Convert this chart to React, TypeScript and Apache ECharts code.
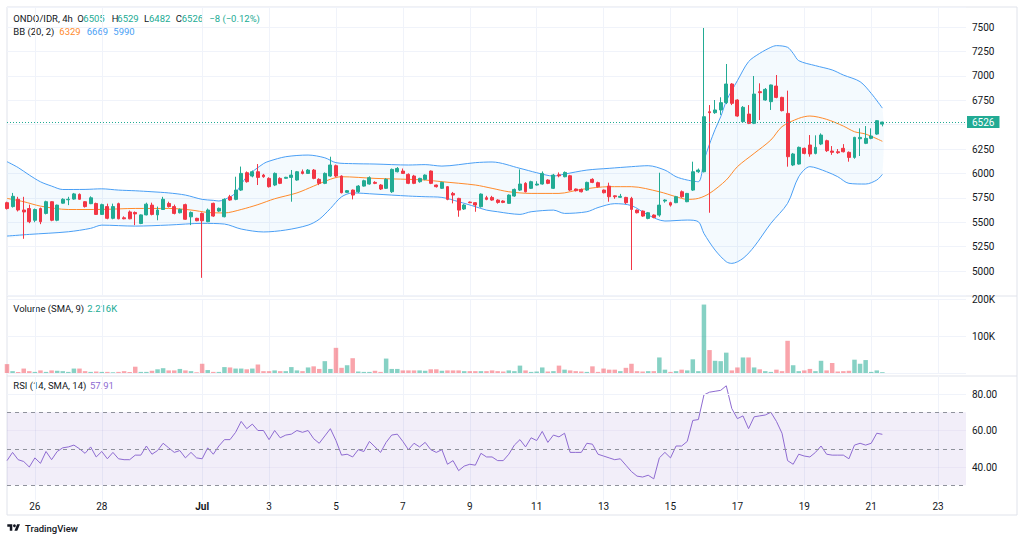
import { useEffect, useRef } from 'react';
import * as echarts from 'echarts';

// ---- palette -------------------------------------------------------------
const UP = '#22ab94';
const DOWN = '#f23645';
const UP_VOL = 'rgba(34,171,148,0.55)';
const DOWN_VOL = 'rgba(242,54,69,0.45)';
const BB_BAND = '#4a9ff5';
const BB_BASIS = '#ff8a2b';
const RSI_COLOR = '#8e6bd1';
const TEXT = '#131722';
const GRID = '#f0f3fa';
const BORDER = '#e0e3eb';
const FONT = 'Roboto, "Noto Sans", sans-serif';

// ---- time slots (4h candles) ---------------------------------------------
const FIRST_SLOT = Date.UTC(2025, 5, 25, 4);
const SLOT_COUNT = 173;
const pad = (n: number) => String(n).padStart(2, '0');
const slots: string[] = Array.from({ length: SLOT_COUNT }, (_, k) => {
  const d = new Date(FIRST_SLOT + k * 4 * 3600 * 1000);
  return `${pad(d.getUTCMonth() + 1)}-${pad(d.getUTCDate())} ${pad(d.getUTCHours())}:00`;
});

const tickSlots = [
  '06-26 00:00', '06-28 00:00', '07-01 00:00', '07-03 00:00', '07-05 00:00',
  '07-07 00:00', '07-09 00:00', '07-11 00:00', '07-13 00:00', '07-15 00:00',
  '07-17 00:00', '07-19 00:00', '07-21 00:00', '07-23 00:00',
];
const tickLabels = ['26', '28', 'Jul', '3', '5', '7', '9', '11', '13', '15', '17', '19', '21', '23'];

// ---- ONDO/IDR 4h candles -------------------------------------------------
const open = [
  5700, 5660, 5735, 5625, 5640, 5520, 5640, 5590, 5710, 5520,
  5695, 5730, 5737, 5785, 5710, 5690, 5692, 5580, 5660, 5540,
  5690, 5545, 5605, 5600, 5487, 5575, 5675, 5575, 5630, 5692,
  5660, 5597, 5680, 5555, 5540, 5590, 5505, 5693, 5614, 5556,
  5761, 5734, 5829, 6007, 5973, 6017, 5983, 5949, 5881, 5949,
  5950, 5959, 5932, 6017, 6000, 6034, 5939, 5898, 5973, 6079,
  5973, 5806, 5829, 5812, 5870, 5891, 5908, 5881, 5847, 5812,
  6017, 6024, 5990, 5973, 5915, 5939, 6024, 5881, 5847, 5864,
  5795, 5744, 5635, 5706, 5700, 5659, 5751, 5754, 5727, 5717,
  5693, 5768, 5829, 5898, 5847, 5881, 5891, 5932, 5847, 5985,
  5966, 5976, 5840, 5836, 5829, 5939, 5905, 5829, 5870, 5770,
  5755, 5754, 5744, 5624, 5614, 5539, 5573, 5573, 5717, 5700,
  5700, 5812, 5710, 5829, 6017, 6017, 6632, 6622, 6650, 6725,
  6916, 6752, 6530, 6608, 6513, 6837, 6752, 6735, 6895, 6779,
  6615, 6086, 6096, 6257, 6291, 6205, 6301, 6335, 6229, 6222,
  6257, 6216, 6164, 6355, 6308, 6359, 6403, 6505,
];
const high = [
  5710, 5800, 5760, 5760, 5680, 5640, 5650, 5720, 5715, 5680,
  5745, 5760, 5800, 5795, 5715, 5765, 5700, 5690, 5690, 5690,
  5700, 5560, 5620, 5610, 5580, 5700, 5700, 5660, 5760, 5710,
  5680, 5640, 5690, 5610, 5545, 5600, 5640, 5700, 5650, 5745,
  5780, 5966, 6070, 6020, 6030, 6096, 5995, 5960, 6010, 5960,
  5965, 6035, 6025, 6040, 6045, 6045, 5950, 6010, 6171, 6090,
  5980, 5830, 5835, 5880, 5935, 5970, 5920, 5890, 5950, 6050,
  6065, 6050, 6000, 5985, 5955, 5990, 6030, 5885, 5915, 5870,
  5810, 5750, 5685, 5712, 5705, 5795, 5770, 5770, 5735, 5725,
  5785, 5845, 6041, 5910, 5925, 5920, 6020, 5940, 5995, 6010,
  6020, 5985, 5845, 5845, 5915, 5950, 5915, 5835, 5905, 5775,
  5790, 5760, 5760, 5630, 5620, 5605, 5580, 6007, 5735, 5710,
  5770, 5825, 5800, 6120, 6050, 7490, 6700, 6752, 6780, 7121,
  6925, 6760, 6690, 6700, 6998, 6923, 6875, 6910, 7008, 6785,
  6848, 6210, 6275, 6265, 6393, 6390, 6410, 6345, 6280, 6250,
  6300, 6225, 6375, 6462, 6485, 6462, 6545, 6529,
];
const low = [
  5630, 5650, 5610, 5330, 5490, 5500, 5480, 5580, 5510, 5510,
  5690, 5675, 5730, 5730, 5650, 5685, 5575, 5575, 5530, 5530,
  5530, 5530, 5530, 5470, 5480, 5570, 5570, 5520, 5625, 5650,
  5580, 5590, 5525, 5470, 5510, 4930, 5500, 5555, 5605, 5550,
  5720, 5725, 5820, 5905, 5960, 5881, 5955, 5855, 5870, 5890,
  5945, 5710, 5925, 5990, 5995, 5940, 5880, 5890, 5965, 5960,
  5795, 5800, 5734, 5800, 5865, 5885, 5890, 5830, 5840, 5800,
  6010, 5995, 5890, 5890, 5905, 5930, 5890, 5855, 5840, 5725,
  5693, 5556, 5625, 5695, 5607, 5650, 5725, 5720, 5690, 5695,
  5688, 5760, 5820, 5805, 5840, 5875, 5885, 5890, 5840, 5960,
  5960, 5820, 5815, 5805, 5820, 5900, 5855, 5795, 5710, 5740,
  5750, 5686, 5010, 5590, 5555, 5530, 5540, 5556, 5700, 5660,
  5695, 5750, 5705, 5820, 6005, 6010, 5597, 6610, 6600, 6710,
  6700, 6580, 6520, 6505, 6505, 6547, 6745, 6650, 6770, 6635,
  6069, 6075, 6090, 6195, 6171, 6195, 6290, 6220, 6190, 6200,
  6215, 6120, 6150, 6178, 6300, 6350, 6395, 6482,
];
const close = [
  5640, 5765, 5625, 5605, 5505, 5630, 5505, 5710, 5520, 5675,
  5735, 5735, 5790, 5735, 5660, 5750, 5580, 5680, 5540, 5660,
  5535, 5535, 5535, 5585, 5575, 5685, 5580, 5625, 5735, 5660,
  5590, 5631, 5530, 5600, 5515, 5515, 5625, 5563, 5642, 5734,
  5727, 5829, 6000, 5915, 6017, 5959, 5966, 5864, 6000, 5898,
  5960, 5983, 6017, 6000, 6034, 5949, 5898, 6000, 6086, 5973,
  5802, 5823, 5778, 5870, 5925, 5956, 5898, 5840, 5939, 6041,
  6051, 6000, 5898, 5898, 5949, 5983, 5898, 5864, 5908, 5734,
  5778, 5624, 5676, 5700, 5676, 5788, 5734, 5727, 5703, 5703,
  5778, 5836, 5891, 5812, 5915, 5891, 6000, 5898, 5983, 5975,
  6010, 5829, 5823, 5812, 5908, 5908, 5864, 5802, 5761, 5761,
  5765, 5700, 5631, 5597, 5563, 5597, 5549, 5675, 5727, 5675,
  5761, 5761, 5795, 6017, 6034, 6581, 6622, 6650, 6725, 6916,
  6718, 6588, 6677, 6513, 6813, 6827, 6861, 6906, 6779, 6643,
  6171, 6199, 6267, 6205, 6199, 6267, 6393, 6233, 6216, 6212,
  6222, 6164, 6369, 6369, 6359, 6383, 6540, 6526,
];

// volume in thousands
const volumeK = [
  24, 5, 3, 12, 5, 3, 7, 3, 7, 6,
  5, 3, 12, 12, 5, 3, 4, 3, 3, 2,
  3, 5, 3, 17, 3, 3, 6, 10, 13, 7,
  7, 11, 7, 5, 2, 25, 8, 3, 3, 16,
  15, 12, 12, 10, 12, 23, 5, 5, 7, 5,
  5, 16, 7, 5, 15, 18, 11, 32, 11, 68,
  14, 21, 40, 4, 3, 3, 6, 3, 39, 11,
  11, 7, 7, 7, 7, 6, 10, 10, 6, 7,
  7, 7, 5, 5, 5, 5, 5, 7, 5, 4,
  7, 5, 20, 7, 3, 4, 15, 4, 5, 20,
  9, 7, 5, 4, 3, 18, 3, 12, 9, 9,
  5, 14, 25, 5, 4, 5, 5, 42, 9, 3,
  5, 9, 7, 37, 5, 185, 62, 33, 32, 55,
  7, 15, 42, 42, 15, 10, 5, 3, 9, 5,
  87, 21, 5, 7, 11, 5, 33, 7, 27, 4,
  5, 6, 36, 25, 35, 3, 7, 2.216,
];

const rsi = [
  43.5, 48, 44, 43, 40, 45, 42, 48.5, 44, 48.5,
  50.5, 51, 52, 50, 47.5, 51, 45.5, 48.5, 44.5, 48,
  44.5, 44, 44, 46.5, 46.5, 51.5, 47, 49, 53, 50.5,
  48, 49, 45, 48, 45, 44.5, 50.5, 47, 51.5, 55,
  55, 59, 65, 61, 63.5, 60, 60, 55, 60, 56,
  57.5, 58, 60, 59, 60, 55.5, 53, 57, 61, 54.5,
  46.5, 47, 45.5, 49.5, 48.5, 54, 51, 48, 53.5, 57.5,
  58, 54, 49.5, 53, 51, 53.5, 49.5, 48, 49.5, 41.5,
  43.5, 38, 40.5, 41.5, 41, 47.5, 45.5, 45.5, 43.5, 43.5,
  47, 52, 55, 51, 56, 54.5, 59.5, 53.5, 57.5, 56.5,
  58.5, 48, 48, 48, 53, 52.5, 47, 46, 45, 44,
  44.5, 41, 37.5, 35, 34.5, 35.5, 33.5, 45, 48, 45,
  51.5, 51.5, 54, 65.5, 66, 79.5, 81, 81.5, 82, 84.5,
  72, 66.5, 68, 61, 67.5, 68, 68.5, 70, 65, 58.5,
  43.5, 41.5, 47, 46, 45.5, 48, 51.5, 47, 46.5, 46.5,
  46.5, 44.5, 52, 53, 52, 53, 58.5, 57.91,
];

// Bollinger Bands (20, 2): [candle number, price]
const bbUpper: [number, number][] = [
  [1, 6120], [3, 6060], [5, 5983], [7, 5914], [9, 5870], [11, 5835], [15, 5836], [18, 5842],
  [21, 5829], [24, 5822], [27, 5812], [30, 5800], [33, 5778], [36, 5734], [38, 5724], [39, 5717],
  [41, 5760], [42, 5800], [44, 5966], [47, 6100], [48, 6125], [51, 6171], [55, 6188], [58, 6160],
  [60, 6110], [63, 6100], [67, 6096], [73, 6086], [76, 6090], [79, 6075], [85, 6110], [88, 6117],
  [93, 6052], [96, 6007], [99, 5973], [101, 5993], [105, 6034], [109, 6052], [113, 6069], [116, 6079],
  [119, 6034], [121, 5966], [123, 5932], [125, 5915], [126, 6130], [127, 6300], [128, 6450], [129, 6580],
  [130, 6740], [131, 6850], [132, 6950], [134, 7145], [136, 7230], [138, 7292], [139, 7309], [141, 7292],
  [142, 7230], [143, 7155], [146, 7104], [149, 7060], [151, 7008], [154, 6940], [156, 6820], [158, 6669],
];
const bbBasis: [number, number][] = [
  [1, 5744], [4, 5710], [7, 5665], [12, 5630], [18, 5631], [24, 5641], [30, 5641], [34, 5625],
  [37, 5600], [40, 5595], [43, 5630], [46, 5680], [49, 5740], [53, 5800], [56, 5870], [59, 5940],
  [61, 5966], [67, 5949], [73, 5939], [76, 5932], [79, 5915], [85, 5881], [88, 5847], [91, 5812],
  [95, 5795], [100, 5795], [104, 5836], [109, 5864], [113, 5864], [118, 5812], [121, 5761], [123, 5734],
  [125, 5744], [127, 5795], [130, 5932], [132, 6069], [135, 6205], [138, 6342], [140, 6479], [143, 6564],
  [145, 6588], [148, 6554], [151, 6485], [153, 6427], [155, 6403], [158, 6329],
];
const bbLower: [number, number][] = [
  [1, 5358], [5, 5375], [12, 5402], [16, 5437], [18, 5470], [24, 5460], [30, 5471], [36, 5488],
  [40, 5481], [43, 5430], [47, 5400], [51, 5420], [55, 5470], [57, 5530], [59, 5640], [61, 5760],
  [63, 5800], [67, 5788], [73, 5768], [76, 5761], [79, 5754], [82, 5710], [85, 5659], [87, 5624],
  [89, 5607], [91, 5590], [93, 5580], [95, 5607], [99, 5624], [101, 5590], [105, 5607], [107, 5650],
  [110, 5690], [113, 5670], [116, 5573], [119, 5512], [123, 5522], [125, 5505], [126, 5385], [128, 5214],
  [130, 5095], [131, 5078], [133, 5129], [135, 5249], [138, 5488], [141, 5693], [143, 5966], [145, 6069],
  [148, 6017], [150, 5966], [152, 5898], [155, 5891], [157, 5932], [158, 5990],
];

const LAST_PRICE = 6526;

echarts.graphic.registerShape(
  'tvLogo',
  echarts.graphic.extendPath('M14 22H7V11H0V4h14v18zM28 22h-8l7.5-18h8L28 22z', {})
);

const tickSet = new Set(tickSlots);
const showTick = (_: number, v: string) => tickSet.has(v);
const toPoints = (arr: [number, number][]) => arr.map(([n, v]) => [n - 1, v]);

function xAxisFor(gridIndex: number, withLabels: boolean) {
  return {
    type: 'category',
    gridIndex,
    data: slots,
    boundaryGap: false,
    axisLine: { show: false },
    axisTick: { show: false },
    axisPointer: { show: false },
    axisLabel: withLabels
      ? {
          interval: showTick,
          margin: 2,
          color: TEXT,
          fontSize: 10,
          fontFamily: FONT,
          formatter: (v: string) => {
            const k = tickSlots.indexOf(v);
            if (k < 0) return '';
            return tickLabels[k] === 'Jul' ? '{b|Jul}' : tickLabels[k];
          },
          rich: { b: { fontWeight: 'bold', fontSize: 10, fontFamily: FONT, color: TEXT } },
        }
      : { show: false },
    splitLine: { show: true, interval: showTick, lineStyle: { color: GRID, width: 1 } },
  };
}

const axisText = { color: TEXT, fontSize: 10, fontFamily: FONT };

function label(x: number, y: number, text: string, fill: string, size = 9.5, weight = 'normal') {
  return {
    type: 'text',
    x,
    y,
    silent: true,
    style: { text, fill, fontSize: size, fontFamily: FONT, fontWeight: weight, verticalAlign: 'middle' },
  };
}

function segment(x1: number, y1: number, x2: number, y2: number) {
  return {
    type: 'line',
    silent: true,
    shape: { x1, y1, x2, y2 },
    style: { stroke: BORDER, lineWidth: 1 },
  };
}

function buildOption() {
  const candles = open.map((o, k) => [o, close[k], low[k], high[k]]);
  const volumes = volumeK.map((v, k) => ({
    value: v * 1000,
    itemStyle: { color: close[k] >= open[k] ? UP_VOL : DOWN_VOL },
  }));

  const logoScale = 0.357;
  const logoX = 7.3;
  const logoY = 522.9;

  return {
    animation: false,
    backgroundColor: '#ffffff',
    textStyle: { fontFamily: FONT },
    grid: [
      { left: 7, right: 58, top: 7, height: 288.4 },
      { left: 7, right: 58, top: 299, height: 74 },
      { left: 7, right: 58, top: 375.75, height: 124.1 },
    ],
    xAxis: [xAxisFor(0, false), xAxisFor(1, false), xAxisFor(2, true)],
    yAxis: [
      {
        type: 'value',
        gridIndex: 0,
        position: 'right',
        min: 4750,
        max: 7705,
        interval: 250,
        axisLine: { show: false },
        axisTick: { show: false },
        axisLabel: {
          ...axisText,
          margin: 6,
          showMinLabel: false,
          showMaxLabel: false,
          formatter: (v: number) => (v === 6500 ? '' : String(v)),
        },
        splitLine: { lineStyle: { color: GRID } },
      },
      {
        type: 'value',
        gridIndex: 1,
        position: 'right',
        min: 0,
        max: 200000,
        interval: 100000,
        axisLine: { show: false },
        axisTick: { show: false },
        axisLabel: { ...axisText, margin: 6, formatter: (v: number) => (v === 0 ? '' : `${v / 1000}K`) },
        splitLine: { lineStyle: { color: GRID } },
      },
      {
        type: 'value',
        gridIndex: 2,
        position: 'right',
        min: 22,
        max: 90,
        interval: 2,
        axisLine: { show: false },
        axisTick: { show: false },
        axisLabel: {
          ...axisText,
          margin: 6,
          formatter: (v: number) => (v === 40 || v === 60 || v === 80 ? v.toFixed(2) : ''),
        },
        splitLine: { show: false },
      },
    ],
    series: [
      {
        name: 'BB fill',
        type: 'custom',
        xAxisIndex: 0,
        yAxisIndex: 0,
        silent: true,
        clip: true,
        z: 1,
        data: [[0, 6000]],
        renderItem: (_params: any, api: any) => {
          const pts = [
            ...toPoints(bbUpper).map((p) => api.coord(p)),
            ...toPoints(bbLower).reverse().map((p) => api.coord(p)),
          ];
          return {
            type: 'polygon',
            shape: { points: pts, smooth: 0.3 },
            style: { fill: 'rgba(33,150,243,0.05)' },
          };
        },
      },
      {
        name: 'BB upper',
        type: 'line',
        xAxisIndex: 0,
        yAxisIndex: 0,
        data: toPoints(bbUpper),
        showSymbol: false,
        smooth: 0.3,
        silent: true,
        z: 2,
        lineStyle: { color: BB_BAND, width: 1 },
      },
      {
        name: 'BB lower',
        type: 'line',
        xAxisIndex: 0,
        yAxisIndex: 0,
        data: toPoints(bbLower),
        showSymbol: false,
        smooth: 0.3,
        silent: true,
        z: 2,
        lineStyle: { color: BB_BAND, width: 1 },
      },
      {
        name: 'BB basis',
        type: 'line',
        xAxisIndex: 0,
        yAxisIndex: 0,
        data: toPoints(bbBasis),
        showSymbol: false,
        smooth: 0.3,
        silent: true,
        z: 2,
        lineStyle: { color: BB_BASIS, width: 1 },
      },
      {
        name: 'ONDO/IDR',
        type: 'candlestick',
        xAxisIndex: 0,
        yAxisIndex: 0,
        data: candles,
        barWidth: 3.4,
        z: 3,
        itemStyle: { color: UP, color0: DOWN, borderColor: UP, borderColor0: DOWN, borderWidth: 1 },
        markLine: {
          silent: true,
          symbol: ['none', 'none'],
          data: [{ yAxis: LAST_PRICE }],
          lineStyle: { color: UP, type: [1, 2], width: 1 },
          label: {
            show: true,
            position: 'end',
            distance: 1,
            formatter: String(LAST_PRICE),
            color: '#ffffff',
            backgroundColor: UP,
            padding: [1, 5, 0, 5],
            lineHeight: 11,
            fontSize: 10,
            fontFamily: FONT,
          },
        },
      },
      {
        name: 'Volume',
        type: 'bar',
        xAxisIndex: 1,
        yAxisIndex: 1,
        data: volumes,
        barWidth: 4.5,
        silent: true,
      },
      {
        name: 'RSI',
        type: 'line',
        xAxisIndex: 2,
        yAxisIndex: 2,
        data: rsi,
        showSymbol: false,
        silent: true,
        lineStyle: { color: RSI_COLOR, width: 1 },
        markArea: {
          silent: true,
          itemStyle: { color: 'rgba(126,87,194,0.1)' },
          data: [[{ yAxis: 30 }, { yAxis: 70 }]],
        },
        markLine: {
          silent: true,
          symbol: ['none', 'none'],
          label: { show: false },
          data: [
            { yAxis: 80, lineStyle: { color: GRID, type: 'solid', width: 1 } },
            { yAxis: 60, lineStyle: { color: 'rgba(126,87,194,0.06)', type: 'solid', width: 1 } },
            { yAxis: 40, lineStyle: { color: 'rgba(126,87,194,0.06)', type: 'solid', width: 1 } },
            { yAxis: 70, lineStyle: { color: '#8f929c', type: [4, 4], width: 1 } },
            { yAxis: 50, lineStyle: { color: '#8f929c', type: [4, 4], width: 1 } },
            { yAxis: 30, lineStyle: { color: '#8f929c', type: [4, 4], width: 1 } },
          ],
        },
      },
    ],
    graphic: [
      // chart frame and pane separators
      segment(7, 7, 1017, 7),
      segment(7, 7, 7, 515),
      segment(1017, 7, 1017, 515),
      segment(7, 296, 1017, 296),
      segment(7, 376, 1017, 376),
      segment(7, 515, 1017, 515),
      // legends
      label(13.3, 18, 'ONDO/IDR, 4h', TEXT),
      label(77.3, 18, 'O', TEXT),
      label(83.3, 18, '6505', UP),
      label(111.7, 18, 'H', TEXT),
      label(117.3, 18, '6529', UP),
      label(144, 18, 'L', TEXT),
      label(149, 18, '6482', UP),
      label(175.7, 18, 'C', TEXT),
      label(181.7, 18, '6526', UP),
      label(209.3, 18, '\u22128 (\u22120.12%)', UP),
      label(13.3, 31, 'BB (20, 2)', TEXT),
      label(59.3, 31, '6329', BB_BASIS),
      label(86.7, 31, '6669', BB_BAND),
      label(113.3, 31, '5990', BB_BAND),
      label(13.3, 308.5, 'Volume (SMA, 9)', TEXT),
      label(87.3, 308.5, '2.216K', UP),
      label(13.3, 385, 'RSI (14, SMA, 14)', TEXT),
      label(90, 385, '57.91', RSI_COLOR),
      // TradingView mark
      {
        type: 'tvLogo',
        x: logoX,
        y: logoY,
        scaleX: logoScale,
        scaleY: logoScale,
        silent: true,
        style: { fill: TEXT },
      },
      {
        type: 'circle',
        silent: true,
        shape: { cx: logoX + 20 * logoScale, cy: logoY + 8 * logoScale, r: 4 * logoScale },
        style: { fill: TEXT },
      },
      label(25, 528, 'TradingView', TEXT, 9.5, '500'),
    ],
  };
}

export default function App() {
  const ref = useRef<HTMLDivElement>(null);
  useEffect(() => {
    const el = ref.current;
    if (!el) return;
    const chart = echarts.init(el, undefined, { renderer: 'svg' });
    chart.setOption(buildOption() as any);
    return () => chart.dispose();
  }, []);
  return (
    <div
      ref={ref}
      style={{ position: 'fixed', left: 0, top: 0, width: 1024, height: 541, background: '#ffffff' }}
    />
  );
}
